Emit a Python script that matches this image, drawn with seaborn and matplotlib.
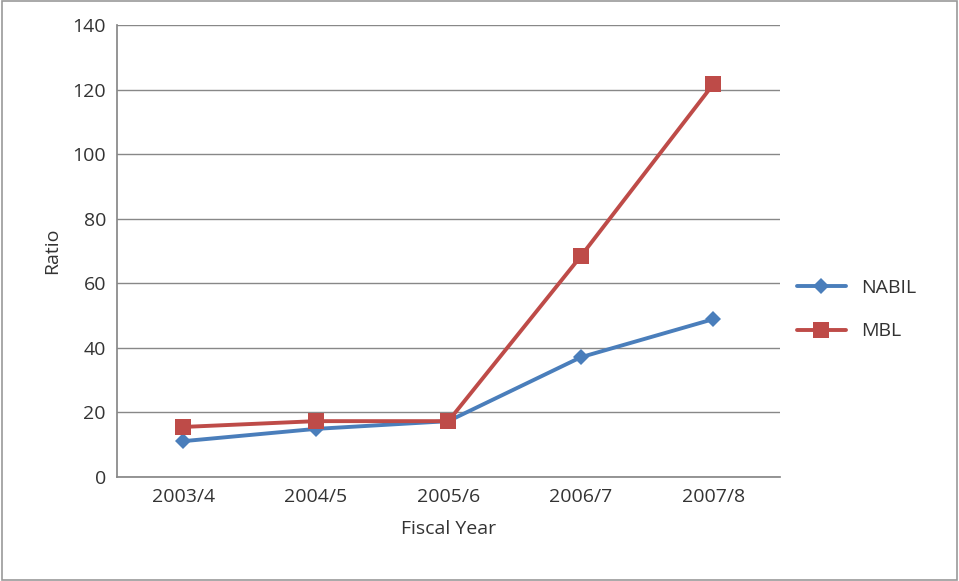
import matplotlib
matplotlib.use("Agg")
import matplotlib.pyplot as plt
import seaborn as sns
import pandas as pd

years = ["2003/4", "2004/5", "2005/6", "2006/7", "2007/8"]
nabil = [11.1, 14.9, 17.3, 37.1, 48.9]
mbl = [15.5, 17.3, 17.3, 68.4, 121.7]

sns.set_theme(style="white")
plt.rcParams['font.family'] = ['Open Sans', 'DejaVu Sans']

df = pd.DataFrame({"Fiscal Year": years * 2, "Ratio": nabil + mbl,
                   "Bank": ["NABIL"] * 5 + ["MBL"] * 5})

fig = plt.figure(figsize=(9.59, 5.81), dpi=100)
ax = fig.add_axes([0.122, 0.179, 0.691, 0.778])
pal = {"NABIL": "#4a7ebb", "MBL": "#be4b48"}
sns.lineplot(data=df, x="Fiscal Year", y="Ratio", hue="Bank", style="Bank",
             markers={"NABIL": "D", "MBL": "s"}, dashes=False, palette=pal,
             linewidth=2.8, markersize=11, markeredgewidth=0, ax=ax, sort=False)
for l in ax.lines:
    if l.get_marker() == "D":
        l.set_markersize(8)
ax.set_ylim(0, 140)
ax.set_yticks(range(0, 141, 20))
ax.set_xlim(-0.5, 4.5)
ax.yaxis.grid(True, color="#888888", linewidth=1)
for s in ["top", "right"]:
    ax.spines[s].set_visible(False)
for s in ["left", "bottom"]:
    ax.spines[s].set_color("#888888")
ax.tick_params(axis="both", labelsize=14, colors="#333333", length=0, pad=8)
ax.set_xticks(range(5))
ax.set_xticks([x + 0.5 for x in range(-1, 5)], minor=True)
ax.tick_params(axis="x", which="minor", length=6, color="#888888", direction="out")
ax.set_xlabel("Fiscal Year", fontsize=14, color="#333333", labelpad=10)
ax.set_ylabel("Ratio", fontsize=14, color="#333333", labelpad=8)
leg = ax.legend(loc="center left", bbox_to_anchor=(1.0, 0.37), frameon=False,
                fontsize=14, handlelength=2.5, labelspacing=1.3)
for t in leg.get_texts():
    t.set_color("#333333")
fig.patches.append(plt.Rectangle((0.002, 0.002), 0.996, 0.996, transform=fig.transFigure,
                                 fill=False, edgecolor="#999999", linewidth=1.2))
fig.savefig("out.png", dpi=100)
